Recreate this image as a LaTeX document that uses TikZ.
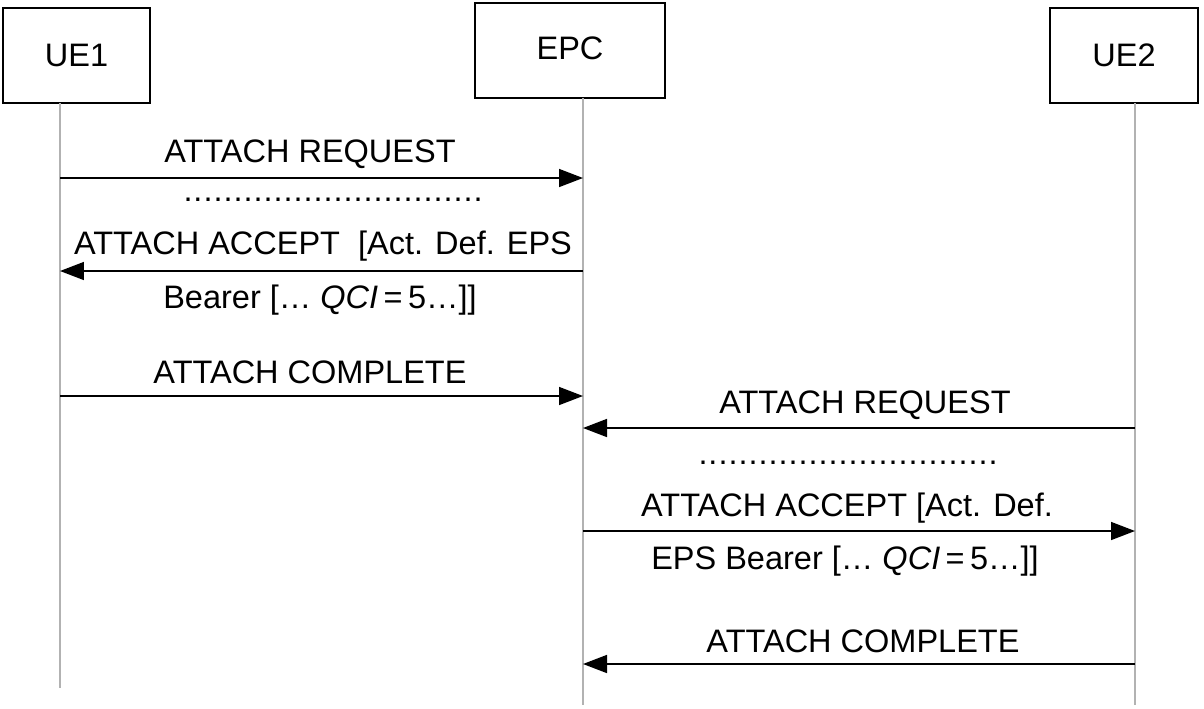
\documentclass[tikz,border=0pt]{standalone}
\usepackage{fontspec}
\setmainfont{Liberation Sans}
\usetikzlibrary{arrows.meta}
\begin{document}
\begin{tikzpicture}[x=0.02cm,y=-0.02cm,
  box/.style={draw,line width=0.9pt,inner sep=0pt},
  life/.style={draw=black!30,line width=1.5pt},
  msg/.style={line width=0.9pt,-{Triangle[length=0.48cm,width=0.36cm]}},
  lbl/.style={font=\fontsize{18.5}{22}\selectfont,inner sep=0pt}]
\useasboundingbox (0,0) rectangle (1204,708);
\node[box,minimum width=2.94cm,minimum height=1.9cm,lbl] (ue1) at (76.5,55.5) {UE1};
\node[box,minimum width=3.8cm,minimum height=1.9cm,lbl] (epc) at (570,50.5) {};
\node[lbl] (epct) at (570,48) {EPC};
\node[box,minimum width=2.96cm,minimum height=1.9cm,lbl] (ue2) at (1124,55.5) {UE2};
\coordinate (a0) at (60,103); \coordinate (a1) at (60,688);
\coordinate (b0) at (583,98); \coordinate (b1) at (583,705);
\coordinate (c0) at (1135,103); \coordinate (c1) at (1135,705);
\draw[life] (a0) -- (a1); \draw[life] (b0) -- (b1); \draw[life] (c0) -- (c1);
\foreach \n/\x in {a/60,b/583,c/1135}{
  \foreach \y in {178,271,396,428,531,664} \coordinate (\n\y) at (\x,\y);}
\draw[msg] (a178) -- (b178);
\draw[msg] (b271) -- (a271);
\draw[msg] (a396) -- (b396);
\draw[msg] (c428) -- (b428);
\draw[msg] (b531) -- (c531);
\draw[msg] (c664) -- (b664);
\node[lbl] (t1) at (310,154) {ATTACH REQUEST};
\node[lbl] (d1) at (333,200) {\dotfill\hbox to 6cm{\leaders\hbox to 0.2cm{\hss.\hss}\hfill}};
\node[lbl] (t2) at (323,246) {ATTACH ACCEPT \ [Act. Def. EPS};
\node[lbl] (t3) at (320,300) {Bearer [… \textit{QCI}\,=\,5…]]};
\node[lbl] (t4) at (310,372) {ATTACH COMPLETE};
\node[lbl] (t5) at (865,405) {ATTACH REQUEST};
\node[lbl] (d2) at (848,463) {\hbox to 6cm{\leaders\hbox to 0.2cm{\hss.\hss}\hfill}};
\node[lbl] (t6) at (847,508) {ATTACH ACCEPT [Act. Def.};
\node[lbl] (t7) at (845,561) {EPS Bearer [… \textit{QCI}\,=\,5…]]};
\node[lbl] (t8) at (863,641) {ATTACH COMPLETE};
\end{tikzpicture}
\end{document}
